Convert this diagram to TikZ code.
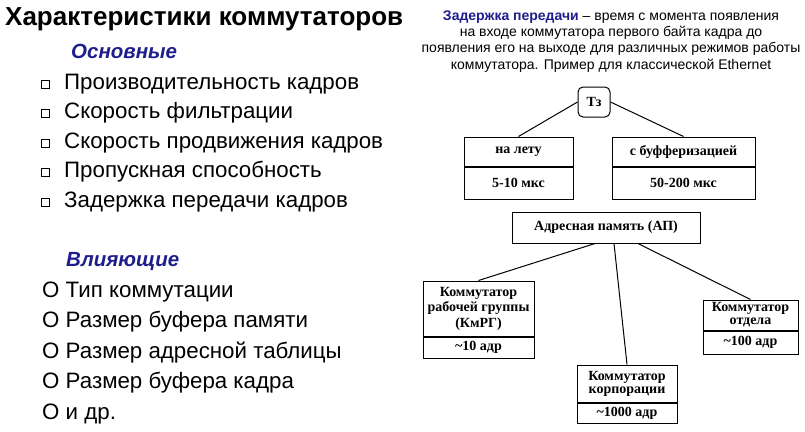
\documentclass[tikz,border=0pt]{standalone}
\usepackage{fontspec}
\setmainfont{Liberation Sans}
\newfontfamily\boxfont{Liberation Serif}
\usepackage{xcolor}
\usetikzlibrary{positioning}
\definecolor{Ink}{HTML}{000000}
\definecolor{HeadBlue}{HTML}{1E1E8C}

\begin{document}
\begin{tikzpicture}[
  x=1pt, y=-1pt,
  cell/.style={draw=Ink, line width=1pt, inner sep=2pt, align=center, text=Ink,
    font=\boxfont\bfseries\fontsize{14}{15.5}\selectfont},
  link/.style={draw=Ink, line width=1pt},
  itm/.style={anchor=base west, inner sep=0pt, text=Ink, font=\fontsize{22.3}{26}\selectfont},
  sub/.style={anchor=base west, inner sep=0pt, text=HeadBlue,
    font=\bfseries\itshape\fontsize{20.5}{24}\selectfont},
  sq/.style={draw=Ink, line width=0.8pt, minimum size=8pt, inner sep=0pt}
]
  \useasboundingbox (0,0) rectangle (805,431);

  % left column
  \node[itm, font=\bfseries\fontsize{26}{30}\selectfont] (title) at (5,25) {Характеристики коммутаторов};
  \node[sub] (basic) at (71,58) {Основные};
  \foreach \txt [count=\i, evaluate=\i as \yy using 89+(\i-1)*29.5] in
    {Производительность кадров, Скорость фильтрации, Скорость продвижения кадров,
     Пропускная способность, Задержка передачи кадров}{
    \node[itm] (m\i) at (64,\yy) {\txt};
    \node[sq] (b\i) at (45,\yy-5) {};
  }
  \node[sub] (infl) at (66,266) {Влияющие};
  \foreach \txt [count=\i, evaluate=\i as \yy using 297+(\i-1)*30.5] in
    {Тип коммутации, Размер буфера памяти, Размер адресной таблицы,
     Размер буфера кадра, и др.}{
    \node[itm] (f\i) at (42,\yy) {O \txt};
  }

  % right column
  \node[anchor=north, inner sep=0pt, align=center, text=Ink,
    font=\fontsize{14}{16.2}\selectfont] (def) at (611,10.5)
    {\textbf{\textcolor{HeadBlue}{Задержка передачи}} – время с момента появления\\
     на входе коммутатора первого байта кадра до\\
     появления его на выходе для различных режимов работы\\
     коммутатора. Пример для классической Ethernet};

  \node[cell, rounded corners=5pt, minimum width=32pt, minimum height=30pt] (tz) at (594,102) {Тз};
  \node[cell, minimum width=109pt, minimum height=29pt] (fly) at (518.5,151.5) {на лету};
  \node[cell, minimum width=109pt, minimum height=32pt, below=0pt of fly] (flyv) {5-10 мкс};
  \node[cell, minimum width=143pt, minimum height=29pt] (buf) at (683.5,151.5) {с буфферизацией};
  \node[cell, minimum width=143pt, minimum height=32pt, below=0pt of buf] (bufv) {50-200 мкс};

  \node[cell, minimum width=188pt, minimum height=31pt] (ap) at (606,227.5) {Адресная память (АП)};
  \node[cell, minimum width=111pt, minimum height=55pt] (wg) at (478.5,308.5) {Коммутатор\\рабочей группы\\(КмРГ)};
  \node[cell, minimum width=111pt, minimum height=21pt, below=0pt of wg] (wgv) {\textasciitilde10 адр};
  \node[cell, minimum width=100pt, minimum height=37pt] (corp) at (627,383.5) {Коммутатор\\[-2.5pt]корпорации};
  \node[cell, minimum width=100pt, minimum height=20pt, below=0pt of corp] (corpv) {\textasciitilde1000 адр};
  \node[cell, minimum width=95pt, minimum height=30pt] (dep) at (750.5,315) {Коммутатор\\[-2.5pt]отдела};
  \node[cell, minimum width=95pt, minimum height=23pt, below=0pt of dep] (depv) {\textasciitilde100 адр};

  \draw[link] (tz.west) -- (fly.north);
  \draw[link] (tz.east) -- (buf.north);
  \draw[link] ([xshift=-11pt]ap.south) -- (wg.north);
  \draw[link] ([xshift=8pt]ap.south) -- (corp.north);
  \draw[link] ([xshift=32pt]ap.south) -- (dep.north);
\end{tikzpicture}
\end{document}
